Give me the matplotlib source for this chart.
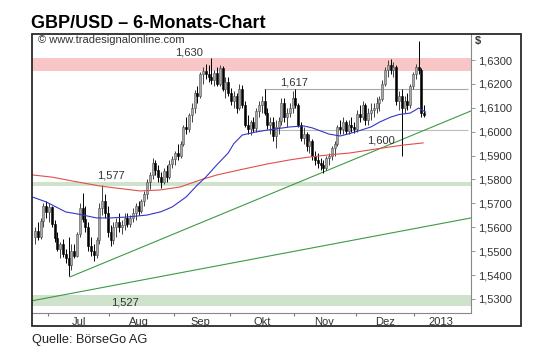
import matplotlib
matplotlib.use('Agg')
import matplotlib.pyplot as plt
from matplotlib import font_manager
from matplotlib.patches import Rectangle

# daily candles, late June 2012 .. early Jan 2013 (bar index = trading day)
opens = [1.5560, 1.5585, 1.5560, 1.5625, 1.5690, 1.5665, 1.5685, 1.5615, 1.5555, 1.5510,
         1.5530, 1.5490, 1.5470, 1.5440, 1.5500, 1.5480, 1.5570, 1.5680, 1.5635, 1.5600,
         1.5520, 1.5500, 1.5485, 1.5545, 1.5680, 1.5710, 1.5660, 1.5580, 1.5545, 1.5600,
         1.5620, 1.5600, 1.5610, 1.5640, 1.5615, 1.5640, 1.5660, 1.5690, 1.5670, 1.5710,
         1.5740, 1.5790, 1.5820, 1.5870, 1.5840, 1.5810, 1.5790, 1.5835, 1.5810, 1.5865,
         1.5885, 1.5910, 1.5900, 1.5950, 1.6020, 1.6010, 1.6070, 1.6100, 1.6160, 1.6150,
         1.6240, 1.6255, 1.6240, 1.6230, 1.6215, 1.6245, 1.6200, 1.6265, 1.6180, 1.6210,
         1.6160, 1.6130, 1.6150, 1.6100, 1.6180, 1.6110, 1.6030, 1.6010, 1.6040, 1.6015,
         1.6085, 1.6110, 1.6130, 1.6080, 1.6030, 1.6040, 1.5980, 1.6020, 1.6045, 1.6120,
         1.6060, 1.6080, 1.6100, 1.6140, 1.6110, 1.6030, 1.5975, 1.5990, 1.5940, 1.5960,
         1.5900, 1.5880, 1.5870, 1.5860, 1.5850, 1.5890, 1.5900, 1.5930, 1.5950, 1.6020,
         1.6010, 1.6040, 1.6005, 1.6030, 1.6020, 1.6010, 1.6075, 1.6060, 1.6110, 1.6050,
         1.6080, 1.6090, 1.6100, 1.6120, 1.6135, 1.6200, 1.6260, 1.6280, 1.6260, 1.6270,
         1.6130, 1.6150, 1.6100, 1.6130, 1.6110, 1.6190, 1.6240, 1.6270, 1.6260, 1.6080]
highs = [1.5600, 1.5620, 1.5640, 1.5700, 1.5710, 1.5700, 1.5690, 1.5630, 1.5580, 1.5540,
         1.5550, 1.5510, 1.5560, 1.5530, 1.5530, 1.5580, 1.5700, 1.5745, 1.5690, 1.5620,
         1.5560, 1.5530, 1.5560, 1.5700, 1.5775, 1.5740, 1.5690, 1.5610, 1.5620, 1.5640,
         1.5660, 1.5630, 1.5660, 1.5660, 1.5650, 1.5680, 1.5700, 1.5710, 1.5720, 1.5750,
         1.5800, 1.5830, 1.5890, 1.5880, 1.5860, 1.5830, 1.5850, 1.5860, 1.5880, 1.5900,
         1.5920, 1.5950, 1.5960, 1.6030, 1.6060, 1.6080, 1.6120, 1.6175, 1.6190, 1.6250,
         1.6270, 1.6285, 1.6280, 1.6308, 1.6260, 1.6270, 1.6280, 1.6275, 1.6230, 1.6230,
         1.6185, 1.6170, 1.6160, 1.6200, 1.6195, 1.6130, 1.6070, 1.6050, 1.6060, 1.6100,
         1.6130, 1.6150, 1.6178, 1.6100, 1.6060, 1.6060, 1.6050, 1.6060, 1.6140, 1.6140,
         1.6100, 1.6120, 1.6170, 1.6178, 1.6120, 1.6040, 1.6020, 1.6000, 1.5990, 1.5970,
         1.5920, 1.5910, 1.5890, 1.5880, 1.5900, 1.5910, 1.5940, 1.5960, 1.6030, 1.6050,
         1.6060, 1.6050, 1.6050, 1.6060, 1.6040, 1.6090, 1.6110, 1.6130, 1.6120, 1.6100,
         1.6120, 1.6120, 1.6145, 1.6150, 1.6215, 1.6270, 1.6300, 1.6305, 1.6290, 1.6280,
         1.6170, 1.6180, 1.6150, 1.6160, 1.6200, 1.6250, 1.6285, 1.6378, 1.6265, 1.6110]
lows = [1.5530, 1.5545, 1.5550, 1.5600, 1.5640, 1.5620, 1.5600, 1.5540, 1.5500, 1.5470,
        1.5475, 1.5450, 1.5395, 1.5420, 1.5470, 1.5475, 1.5560, 1.5620, 1.5580, 1.5500,
        1.5480, 1.5460, 1.5470, 1.5530, 1.5650, 1.5640, 1.5560, 1.5520, 1.5530, 1.5560,
        1.5580, 1.5570, 1.5590, 1.5600, 1.5600, 1.5620, 1.5630, 1.5650, 1.5660, 1.5690,
        1.5720, 1.5760, 1.5800, 1.5820, 1.5790, 1.5765, 1.5780, 1.5790, 1.5800, 1.5850,
        1.5860, 1.5880, 1.5890, 1.5940, 1.5990, 1.6000, 1.6040, 1.6080, 1.6120, 1.6140,
        1.6200, 1.6220, 1.6210, 1.6200, 1.6190, 1.6190, 1.6190, 1.6170, 1.6140, 1.6150,
        1.6110, 1.6100, 1.6080, 1.6090, 1.6100, 1.6020, 1.5990, 1.5985, 1.6000, 1.6000,
        1.6060, 1.6080, 1.6070, 1.6010, 1.5990, 1.5960, 1.5930, 1.5990, 1.6030, 1.6040,
        1.6020, 1.6060, 1.6080, 1.6100, 1.6020, 1.5960, 1.5950, 1.5920, 1.5910, 1.5880,
        1.5860, 1.5850, 1.5840, 1.5828, 1.5840, 1.5860, 1.5880, 1.5900, 1.5940, 1.5990,
        1.5990, 1.5990, 1.5990, 1.6000, 1.5995, 1.6000, 1.6040, 1.6050, 1.6030, 1.6030,
        1.6050, 1.6060, 1.6080, 1.6085, 1.6130, 1.6190, 1.6230, 1.6240, 1.6230, 1.6110,
        1.6090, 1.5900, 1.6080, 1.6090, 1.6100, 1.6180, 1.6220, 1.6240, 1.6060, 1.6060]
closes = [1.5585, 1.5560, 1.5625, 1.5690, 1.5665, 1.5685, 1.5615, 1.5555, 1.5510, 1.5530,
          1.5490, 1.5470, 1.5440, 1.5500, 1.5480, 1.5570, 1.5680, 1.5635, 1.5600, 1.5520,
          1.5500, 1.5485, 1.5545, 1.5680, 1.5710, 1.5660, 1.5580, 1.5545, 1.5600, 1.5620,
          1.5600, 1.5610, 1.5640, 1.5615, 1.5640, 1.5660, 1.5690, 1.5670, 1.5710, 1.5740,
          1.5790, 1.5820, 1.5870, 1.5840, 1.5810, 1.5790, 1.5835, 1.5810, 1.5865, 1.5885,
          1.5910, 1.5900, 1.5950, 1.6020, 1.6010, 1.6070, 1.6100, 1.6160, 1.6150, 1.6240,
          1.6255, 1.6240, 1.6230, 1.6215, 1.6245, 1.6200, 1.6265, 1.6180, 1.6210, 1.6160,
          1.6130, 1.6150, 1.6100, 1.6180, 1.6110, 1.6030, 1.6010, 1.6040, 1.6015, 1.6085,
          1.6110, 1.6130, 1.6080, 1.6030, 1.6040, 1.5980, 1.6020, 1.6045, 1.6120, 1.6060,
          1.6080, 1.6100, 1.6140, 1.6110, 1.6030, 1.5975, 1.5990, 1.5940, 1.5960, 1.5900,
          1.5880, 1.5870, 1.5860, 1.5850, 1.5890, 1.5900, 1.5930, 1.5950, 1.6020, 1.6010,
          1.6040, 1.6005, 1.6030, 1.6020, 1.6010, 1.6075, 1.6060, 1.6110, 1.6050, 1.6080,
          1.6090, 1.6100, 1.6120, 1.6135, 1.6200, 1.6260, 1.6280, 1.6260, 1.6270, 1.6130,
          1.6150, 1.6100, 1.6130, 1.6110, 1.6190, 1.6240, 1.6270, 1.6260, 1.6080, 1.6070]

# moving averages (bar index, price)
ma_blue_x = [-1, 4, 11, 15, 22, 27, 33, 40, 45, 49, 54, 58, 61, 65, 69, 71, 74, 79, 83,
             88, 91, 96, 99, 102, 105, 109, 112, 116, 120, 123, 127, 130, 134, 137, 139.5]
ma_blue = [1.5727, 1.5706, 1.5664, 1.5656, 1.5639, 1.5639, 1.5643, 1.5651, 1.5665, 1.5685,
           1.5727, 1.5777, 1.5810, 1.5862, 1.5911, 1.5950, 1.5986, 1.5999, 1.6007, 1.6015,
           1.6020, 1.6024, 1.6016, 1.6003, 1.5990, 1.5982, 1.5991, 1.6005, 1.6020, 1.6040,
           1.6061, 1.6072, 1.6078, 1.6099, 1.6082]
ma_red_x = [-1, 6, 15, 23, 29, 37.5, 44.6, 52, 59, 65, 73, 83, 91, 98, 105, 112.5, 122,
            131.4, 138.6]
ma_red = [1.5819, 1.5810, 1.5790, 1.5773, 1.5764, 1.5752, 1.5756, 1.5769, 1.5798, 1.5819,
          1.5840, 1.5865, 1.5882, 1.5894, 1.5903, 1.5911, 1.5928, 1.5944, 1.5953]

# trend lines and levels
trend1_x, trend1_y = [12.5, 155.7], [1.5392, 1.6087]
trend2_x, trend2_y = [-1.1, 155.7], [1.5292, 1.5639]
res_band = (1.6254, 1.6308)
sup_band1 = (1.5773, 1.5790)
sup_band2 = (1.5271, 1.5317)
line_1617 = ([81.8, 154.6], 1.6178)
line_1600 = ([77, 154.6], 1.6006)
level_labels = ['1,630', '1,617', '1,577', '1,600', '1,527']
level_label_x = [55, 92.5, 27.1, 123.6, 32.1]
level_label_y = [1.6333, 1.6204, 1.5817, 1.5965, 1.5287]

yticks = [1.53, 1.54, 1.55, 1.56, 1.57, 1.58, 1.59, 1.60, 1.61, 1.62, 1.63]
month_starts = [4.5, 26.5, 49.5, 69.5, 92.5, 114.5, 135.5]
month_label_x = [15.7, 37.1, 58.9, 81, 103.2, 125, 145]
month_labels = ['Jul', 'Aug', 'Sep', 'Okt', 'Nov', 'Dez', '2013']

names = {f.name for f in font_manager.fontManager.ttflist}
base_font = 'Liberation Sans' if 'Liberation Sans' in names else 'DejaVu Sans'
narrow_font = 'Liberation Sans Narrow' if 'Liberation Sans Narrow' in names else base_font
plt.rcParams['font.family'] = [base_font, 'DejaVu Sans']

W, H = 540, 360
fig = plt.figure(figsize=(5.4, 3.6), dpi=100)
ax = fig.add_axes([32 / W, 1 - 313 / H, (471 - 32) / W, (313 - 34) / H])

ax.axhspan(*res_band, color='#f8c6c6', lw=0, zorder=0)
ax.axhspan(*sup_band1, color='#cfe2cc', lw=0, zorder=0)
ax.axhspan(*sup_band2, color='#cfe2cc', lw=0, zorder=0)

ax.hlines(line_1617[1], *line_1617[0], color='#a8a8a8', lw=0.8, zorder=1)
ax.hlines(line_1600[1], *line_1600[0], color='#bbbbbb', lw=0.8, zorder=1)
ax.plot(trend1_x, trend1_y, color='#3d9a45', lw=0.8, zorder=1)
ax.plot(trend2_x, trend2_y, color='#3d9a45', lw=0.8, zorder=1)

# candles
for i in range(len(closes)):
    o, h, l, c = opens[i], highs[i], lows[i], closes[i]
    up = c >= o
    ax.vlines(i, l, h, color='#404040' if up else 'black', lw=0.7, zorder=2)
    body = max(abs(c - o), 0.0002)
    ax.bar(i, body, bottom=min(o, c), width=0.68,
           color='#a8a8a8' if up else 'black',
           edgecolor='#505050' if up else 'black', lw=0.4, zorder=3)

ax.plot(ma_red_x, ma_red, color='#e0504a', lw=0.8, zorder=4)
ax.plot(ma_blue_x, ma_blue, color='#3535c8', lw=0.8, zorder=4)

for t, x, y in zip(level_labels, level_label_x, level_label_y):
    ax.text(x, y, t, fontsize=8, color='#333333', ha='center', va='center', zorder=5)

ax.text(1, 1.6382, '© www.tradesignalonline.com', fontsize=8, color='#333333',
        ha='left', va='center')

ax.set_xlim(-1.07, 155.7)
ax.set_ylim(1.5241, 1.6409)

ax.yaxis.tick_right()
ax.set_yticks(yticks)
ax.set_yticklabels([('%.4f' % v).replace('.', ',') for v in yticks])
ax.tick_params(axis='y', length=3, width=0.6, color='#888888', pad=2,
               labelsize=8, labelcolor='#333333')

ax.set_xticks(month_starts)
ax.set_xticklabels([''] * len(month_starts))
ax.set_xticks(month_label_x, minor=True)
ax.set_xticklabels(month_labels, minor=True)
ax.tick_params(axis='x', which='major', length=2, width=0.8, color='#777777')
ax.tick_params(axis='x', which='minor', length=0, pad=3, labelsize=8,
               labelcolor='#333333')

for s in ['right', 'bottom']:
    ax.spines[s].set_color('#888888')
    ax.spines[s].set_linewidth(0.8)
for s in ['left', 'top']:
    ax.spines[s].set_visible(False)

frame = Rectangle((32 / W, 1 - 326 / H), (521 - 32) / W, (326 - 34) / H,
                  transform=fig.transFigure, fill=False, edgecolor='#2a2a2a', lw=1.3)
fig.add_artist(frame)

fig.text(475 / W, 1 - 41 / H, '$', fontsize=8, fontweight='bold', color='#333333',
         va='center')
fig.text(31 / W, 1 - 28 / H, 'GBP/USD – 6-Monats-Chart', fontsize=13,
         fontweight='bold', va='baseline', color='black')
fig.text(32 / W, 1 - 343 / H, 'Quelle: BörseGo AG', fontsize=9.2,
         family=[narrow_font, 'DejaVu Sans'], va='baseline', color='#222222')

fig.savefig('out.png', dpi=100)
